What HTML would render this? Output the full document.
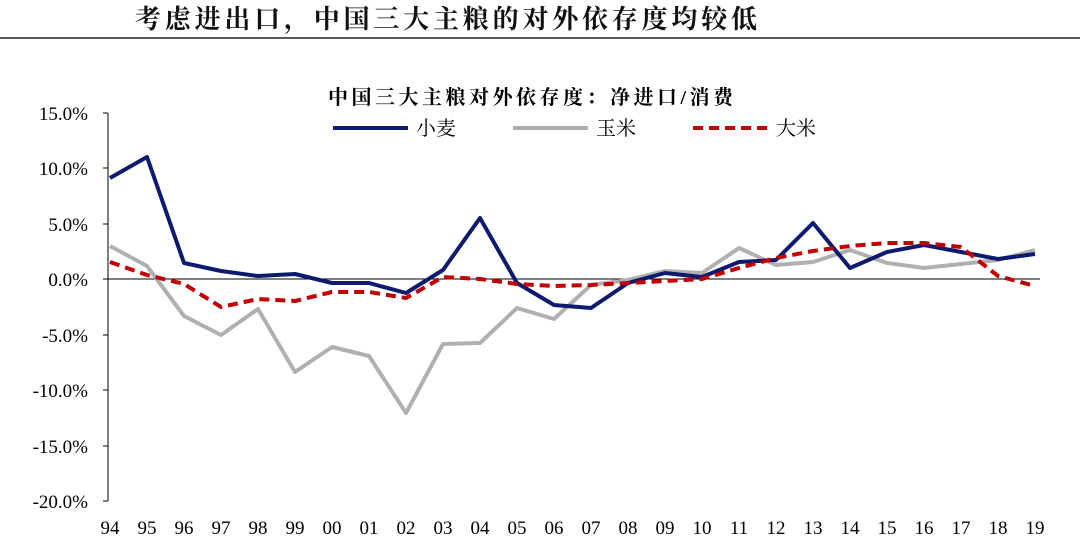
<!DOCTYPE html>
<html><head><meta charset="utf-8"><style>
body{margin:0;background:#fff;width:1080px;height:558px;overflow:hidden}
svg{display:block}
</style></head><body>
<svg width="1080" height="558" xmlns="http://www.w3.org/2000/svg" font-family="'Liberation Serif','Noto Serif CJK SC',serif">
<text x="135" y="28" font-size="26" font-weight="bold" letter-spacing="3.8" fill="#111" font-family="'Liberation Serif','Noto Serif CJK SC',serif">考虑进出口，中国三大主粮的对外依存度均较低</text>
<line x1="0" y1="38" x2="1080" y2="38" stroke="#222" stroke-width="1.5"/>
<text x="328" y="104" font-size="20" font-weight="bold" letter-spacing="3.5" fill="#000">中国三大主粮对外依存度：净进口/消费</text>
<line x1="333" y1="128" x2="408" y2="128" stroke="#0d1a6e" stroke-width="4"/>
<text x="416" y="135" font-size="20" fill="#000">小麦</text>
<line x1="513" y1="128" x2="588" y2="128" stroke="#b0b0b0" stroke-width="4"/>
<text x="596" y="135" font-size="20" fill="#000">玉米</text>
<line x1="693" y1="128" x2="768" y2="128" stroke="#c00000" stroke-width="4" stroke-dasharray="10,6"/>
<text x="776" y="135" font-size="20" fill="#000">大米</text>
<g font-size="19" text-anchor="end" fill="#000">
<text x="88" y="120">15.0%</text><text x="88" y="175">10.0%</text><text x="88" y="231">5.0%</text><text x="88" y="286">0.0%</text>
<text x="88" y="342">-5.0%</text><text x="88" y="397">-10.0%</text><text x="88" y="453">-15.0%</text><text x="88" y="508">-20.0%</text>
</g>
<g stroke="#000" stroke-width="1">
<line x1="108" y1="113" x2="108" y2="501"/>
<line x1="108" y1="279" x2="1040" y2="279"/>
<line x1="103" y1="113" x2="108" y2="113"/><line x1="103" y1="168" x2="108" y2="168"/><line x1="103" y1="224" x2="108" y2="224"/><line x1="103" y1="279" x2="108" y2="279"/><line x1="103" y1="335" x2="108" y2="335"/><line x1="103" y1="390" x2="108" y2="390"/><line x1="103" y1="446" x2="108" y2="446"/><line x1="103" y1="501" x2="108" y2="501"/>
</g>
<g font-size="19" text-anchor="middle" fill="#000">
<text x="110" y="534">94</text><text x="147" y="534">95</text><text x="184" y="534">96</text><text x="221" y="534">97</text><text x="258" y="534">98</text><text x="295" y="534">99</text><text x="332" y="534">00</text><text x="369" y="534">01</text><text x="406" y="534">02</text><text x="443" y="534">03</text><text x="480" y="534">04</text><text x="517" y="534">05</text><text x="554" y="534">06</text><text x="591" y="534">07</text><text x="628" y="534">08</text><text x="665" y="534">09</text><text x="702" y="534">10</text><text x="739" y="534">11</text><text x="776" y="534">12</text><text x="813" y="534">13</text><text x="850" y="534">14</text><text x="887" y="534">15</text><text x="924" y="534">16</text><text x="961" y="534">17</text><text x="998" y="534">18</text><text x="1035" y="534">19</text>
</g>
<polyline fill="none" stroke="#b0b0b0" stroke-width="4" stroke-linejoin="round" points="110,246 147,266 184,316 221,335 258,309 295,372 332,347 369,356 406,413 443,344 480,343 517,308 554,319 591,285 628,280 665,271 702,273 739,248 776,265 813,262 850,250 887,263 924,268 961,264 998,260 1035,250"/>
<polyline fill="none" stroke="#0d1a6e" stroke-width="4" stroke-linejoin="round" points="110,178 147,157 184,263 221,271 258,276 295,274 332,283 369,283 406,293 443,270 480,218 517,283 554,305 591,308 628,283 665,273 702,277 739,262 776,260 813,223 850,268 887,252 924,245 961,252 998,259 1035,254"/>
<polyline fill="none" stroke="#c00000" stroke-width="4" stroke-dasharray="10,6" stroke-linejoin="round" points="110,262 147,275 184,284 221,307 258,299 295,301 332,292 369,292 406,298 443,277 480,279 517,284 554,286 591,285 628,283 665,281 702,279 739,268 776,258 813,251 850,246 887,243 924,243 961,247 998,276 1035,286"/>
</svg>
</body></html>
